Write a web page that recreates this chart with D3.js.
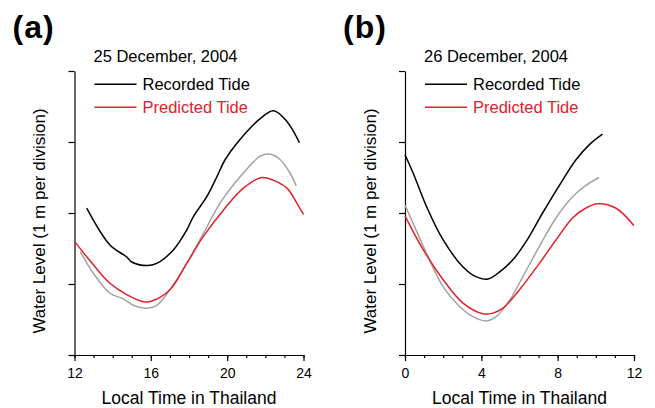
<!DOCTYPE html>
<html>
<head>
<meta charset="utf-8">
<script src="https://cdn.jsdelivr.net/npm/d3@7"></script>
<style>
  body { margin: 0; background: #fff; }
  svg { font-family: "Liberation Sans", Arial, sans-serif; }
</style>
</head>
<body>
<div id="chart"></div>
<script>
// water level in metres above the bottom of the axis, time in hours (local)
var recordedA = [[12.64, 2.07], [13.86, 1.55], [14.74, 1.38], [15.0, 1.31], [15.79, 1.26], [16.31, 1.29],
  [17.18, 1.48], [17.88, 1.76], [18.23, 1.95], [18.93, 2.23], [19.46, 2.51], [19.89, 2.75], [20.5, 2.98],
  [21.73, 3.33], [22.43, 3.44], [23.13, 3.29], [23.79, 2.99]];
var greyA = [[12.3, 1.46], [12.99, 1.15], [13.86, 0.87], [14.56, 0.79], [15.08, 0.70], [15.7, 0.66],
  [16.31, 0.70], [17.0, 0.92], [17.88, 1.29], [18.75, 1.71], [19.63, 2.14], [20.68, 2.51], [21.73, 2.80],
  [22.25, 2.83], [22.78, 2.75], [23.3, 2.56], [23.62, 2.38]];
var predictedA = [[12.0, 1.60], [12.99, 1.27], [13.86, 1.01], [14.74, 0.85], [15.61, 0.75], [16.05, 0.76],
  [17.0, 0.92], [17.88, 1.29], [18.75, 1.67], [19.8, 2.04], [20.85, 2.35], [21.81, 2.50], [22.43, 2.46],
  [23.13, 2.35], [23.65, 2.14], [24.0, 1.98]];

var recordedB = [[0, 2.82], [0.43, 2.56], [1.13, 2.09], [2.0, 1.62], [3.04, 1.24], [3.74, 1.10], [4.35, 1.07],
  [4.96, 1.17], [5.65, 1.34], [6.35, 1.60], [7.21, 2.0], [8.09, 2.39], [8.96, 2.75], [9.65, 2.96], [10.35, 3.11]];
var greyB = [[0, 2.11], [0.43, 1.85], [1.13, 1.43], [2.0, 0.96], [2.87, 0.68], [3.56, 0.54], [4.26, 0.48],
  [4.78, 0.54], [5.48, 0.77], [6.17, 1.10], [7.04, 1.53], [7.91, 1.93], [8.78, 2.23], [9.48, 2.39], [10.17, 2.50]];
var predictedB = [[0, 1.96], [0.96, 1.48], [2.0, 1.06], [3.04, 0.73], [4.08, 0.58], [4.61, 0.59], [5.13, 0.66],
  [6.0, 0.92], [7.04, 1.29], [7.91, 1.62], [8.78, 1.93], [9.48, 2.07], [10.08, 2.13], [11.04, 2.07], [12.0, 1.82]];

var ticksA = [12, 16, 20, 24];
var ticksB = [0, 4, 8, 12];

var svg = d3.select("#chart").append("svg")
  .attr("width", 655)
  .attr("height", 408);

function drawPanel(left, letter, date, xTicks, recorded, grey, predicted) {
  var width = 229, top = 71, height = 284;

  var g = svg.append("g")
    .attr("transform", `translate(${left}, ${top})`);

  var x = d3.scaleLinear()
    .domain([xTicks[0], xTicks[xTicks.length - 1]])
    .range([0, width]);

  var y = d3.scaleLinear()
    .domain([0, 4])
    .range([height, 0]);

  // minor ticks every hour
  g.append("g")
    .attr("transform", `translate(0, ${height})`)
    .call(d3.axisBottom(x).tickValues(d3.range(xTicks[0], xTicks[xTicks.length - 1] + 1, 1))
      .tickSize(3).tickFormat(""))
    .call(a => a.select(".domain").remove());

  // major ticks with labels
  g.append("g")
    .attr("transform", `translate(0, ${height})`)
    .call(d3.axisBottom(x).tickValues(xTicks).tickSize(6).tickSizeOuter(0).tickPadding(7))
    .call(a => a.selectAll("text").attr("font-size", 14).attr("font-family", "Liberation Sans").attr("fill", "#000"));

  g.append("g")
    .call(d3.axisLeft(y).ticks(4).tickSize(6).tickSizeOuter(0).tickFormat(""));

  g.selectAll(".domain, .tick line").attr("stroke", "#000").attr("stroke-width", 1.2);

  var line = d3.line()
    .x(d => x(d[0]))
    .y(d => y(d[1]))
    .curve(d3.curveCatmullRom);

  g.append("path").datum(grey)
    .attr("d", line).attr("fill", "none").attr("stroke", "#a3a3a3").attr("stroke-width", 1.5);
  g.append("path").datum(predicted)
    .attr("d", line).attr("fill", "none").attr("stroke", "#e3212b").attr("stroke-width", 1.5);
  g.append("path").datum(recorded)
    .attr("d", line).attr("fill", "none").attr("stroke", "#000").attr("stroke-width", 1.5);

  // panel letter and date
  svg.append("text")
    .attr("x", left - 62).attr("y", 38)
    .attr("font-size", 32).attr("font-weight", "bold")
    .attr("letter-spacing", 1)
    .text(letter);

  g.append("text")
    .attr("x", 19).attr("y", -9)
    .attr("font-size", 16.5)
    .text(date);

  // legend
  var legend = [["Recorded Tide", "#000"], ["Predicted Tide", "#e3212b"]];
  legend.forEach(function (d, i) {
    var ly = 13.3 + i * 23;
    g.append("line")
      .attr("x1", 20).attr("x2", 62).attr("y1", ly).attr("y2", ly)
      .attr("stroke", d[1]).attr("stroke-width", 1.5);
    g.append("text")
      .attr("x", 68).attr("y", ly + 6)
      .attr("font-size", 16.5).attr("fill", d[1])
      .text(d[0]);
  });

  // axis labels
  g.append("text")
    .attr("x", width / 2).attr("y", height + 49)
    .attr("text-anchor", "middle")
    .attr("font-size", 17.5)
    .text("Local Time in Thailand");

  g.append("text")
    .attr("transform", "rotate(-90)")
    .attr("x", -150).attr("y", -29.5)
    .attr("text-anchor", "middle")
    .attr("font-size", 17)
    .text("Water Level (1 m per division)");
}

drawPanel(74.5, "(a)", "25 December, 2004", ticksA, recordedA, greyA, predictedA);
drawPanel(405, "(b)", "26 December, 2004", ticksB, recordedB, greyB, predictedB);
</script>
</body>
</html>
